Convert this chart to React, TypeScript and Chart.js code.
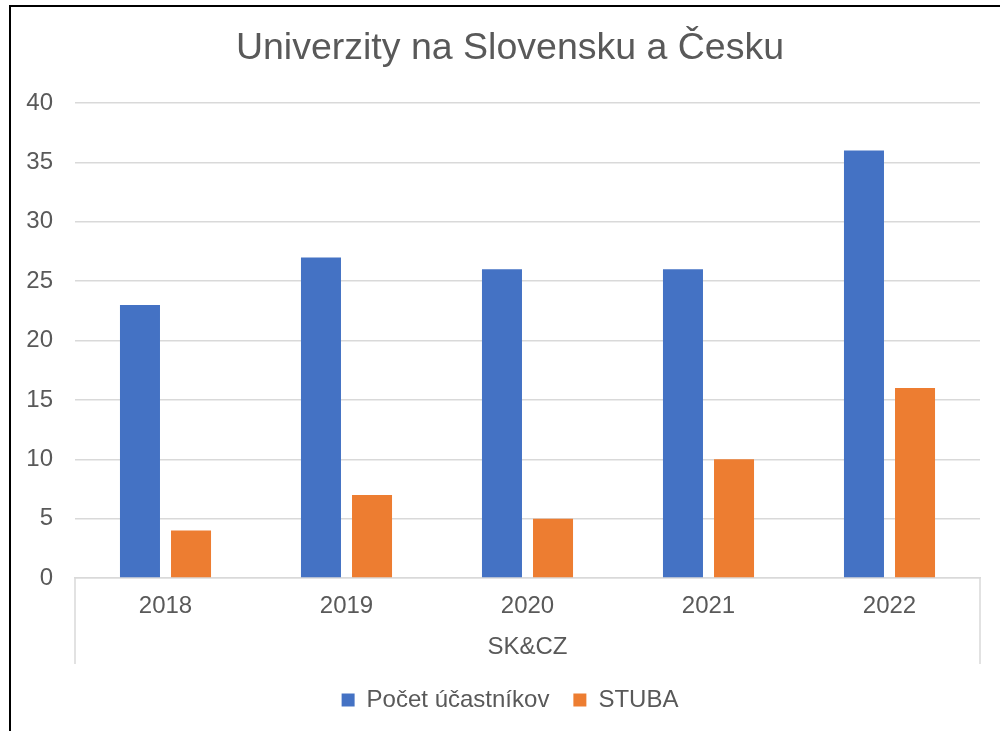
import React, { useEffect, useRef } from "react";
import { Chart, registerables } from "chart.js";

Chart.register(...registerables);

const categories = ["2018", "2019", "2020", "2021", "2022"];
const seriesNames = ["Počet účastníkov", "STUBA"];
const participants = [23, 27, 26, 26, 36];
const stuba = [4, 7, 5, 10, 16];
const yTicks = [0, 5, 10, 15, 20, 25, 30, 35, 40];
const chartTitle = "Univerzity na Slovensku a Česku";
const groupLabel = "SK&CZ";

const FONT = "'Liberation Sans', Arial, sans-serif";
const TEXT = "#595959";
const GRID = "#d9d9d9";

const decorPlugin = {
  id: "decor",
  beforeDraw(chart: any) {
    const ctx = chart.ctx;
    ctx.save();
    ctx.fillStyle = "#ffffff";
    ctx.fillRect(0, 0, chart.width, chart.height);
    ctx.restore();
  },
  afterDraw(chart: any) {
    const ctx = chart.ctx;
    const { left, right, bottom } = chart.chartArea;
    const xs = chart.scales.x;
    ctx.save();
    ctx.strokeStyle = GRID;
    ctx.lineWidth = 1.5;
    ctx.beginPath();
    ctx.moveTo(left, bottom);
    ctx.lineTo(left, xs.bottom);
    ctx.moveTo(right, bottom);
    ctx.lineTo(right, xs.bottom);
    ctx.stroke();
    ctx.strokeStyle = "#000000";
    ctx.lineWidth = 2;
    ctx.strokeRect(10, 6, 1200, 1000);
    ctx.restore();
  },
};

export default function App() {
  const ref = useRef<HTMLCanvasElement | null>(null);
  useEffect(() => {
    document.body.style.margin = "0";
    const canvas = ref.current!;
    const chart = new Chart(canvas, {
      type: "bar",
      data: {
        labels: categories,
        datasets: [
          {
            label: seriesNames[0],
            data: participants,
            backgroundColor: "#4472C4",
            categoryPercentage: 0.564,
            barPercentage: 0.784,
          },
          {
            label: seriesNames[1],
            data: stuba,
            backgroundColor: "#ED7D31",
            categoryPercentage: 0.564,
            barPercentage: 0.784,
          },
        ],
      },
      options: {
        responsive: false,
        animation: false,
        devicePixelRatio: 1,
        layout: { padding: { top: 0, left: 0, right: 0, bottom: 9 } },
        plugins: {
          title: {
            display: true,
            text: chartTitle,
            color: TEXT,
            font: { family: FONT, size: 37.5, weight: "normal" },
            padding: { top: 26, bottom: 32 },
          },
          legend: {
            position: "bottom",
            labels: {
              color: TEXT,
              font: { family: FONT, size: 24 },
              boxWidth: 13,
              boxHeight: 13,
              padding: 24,
            },
          },
          tooltip: { enabled: false },
        },
        scales: {
          x: {
            grid: { display: false },
            border: { display: true, color: GRID, width: 1.5 },
            ticks: {
              color: TEXT,
              font: { family: FONT, size: 24 },
              padding: 6,
            },
            title: {
              display: true,
              text: groupLabel,
              color: TEXT,
              font: { family: FONT, size: 24 },
              padding: { top: 0, bottom: 2 },
            },
            afterFit(scale: any) {
              scale.height = 86;
            },
          },
          y: {
            min: 0,
            max: 40,
            afterBuildTicks(scale: any) {
              scale.ticks = yTicks.map((v) => ({ value: v }));
            },
            grid: { color: GRID, lineWidth: 1.5, drawTicks: false },
            border: { display: false },
            ticks: {
              color: TEXT,
              font: { family: FONT, size: 24 },
              padding: 22,
            },
            afterFit(scale: any) {
              scale.width = 75;
            },
          },
          yRight: {
            type: "linear",
            position: "right",
            display: true,
            grid: { display: false, drawTicks: false },
            border: { display: false },
            ticks: { display: false },
            afterFit(scale: any) {
              scale.width = 40;
            },
          },
        },
      },
      plugins: [decorPlugin],
    } as any);
    return () => chart.destroy();
  }, []);
  return (
    <div
      style={{
        position: "fixed",
        left: 0,
        top: 0,
        width: 1000,
        height: 731,
        overflow: "hidden",
      }}
    >
      <canvas ref={ref} width={1020} height={731} style={{ width: 1020, height: 731, display: "block" }} />
    </div>
  );
}
